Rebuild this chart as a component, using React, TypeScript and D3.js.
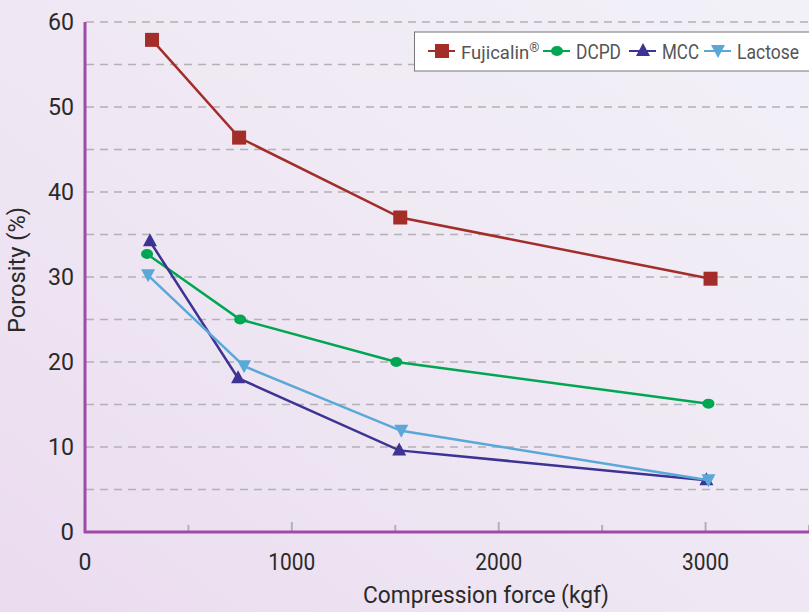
import React from "react";
import * as d3 from "d3";

const seriesNames = ["Fujicalin", "DCPD", "MCC", "Lactose"];
const fujiX = [324, 745, 1524, 3024];
const fujiY = [57.9, 46.4, 37.0, 29.8];
const dcpdX = [300, 750, 1505, 3014];
const dcpdY = [32.7, 25.0, 20.0, 15.1];
const mccX = [314, 740, 1519, 3004];
const mccY = [34.2, 18.1, 9.6, 6.1];
const lacX = [305, 769, 1529, 3014];
const lacY = [30.2, 19.5, 11.9, 6.1];
const xTicks = [0, 1000, 2000, 3000];
const xMinorTicks = [500, 1500, 2500, 3500];
const yTicks = [0, 10, 20, 30, 40, 50, 60];
const yGrid = [5, 10, 15, 20, 25, 30, 35, 40, 45, 50, 55, 60];

const colors = ["#a22d29", "#00a651", "#3d3393", "#5aa8d8"];
const shapes = ["square", "circle", "triangle", "triangleDown"];
const FONT = "Roboto, 'Liberation Sans', sans-serif";

function Marker({ shape, x, y, color }: { shape: string; x: number; y: number; color: string }) {
  if (shape === "square") return <rect x={x - 7} y={y - 7} width={14} height={14} fill={color} />;
  if (shape === "circle") return <ellipse cx={x} cy={y} rx={6} ry={5} fill={color} />;
  if (shape === "triangle")
    return <path d={`M${x},${y - 8} L${x + 7},${y + 5} L${x - 7},${y + 5} Z`} fill={color} />;
  return <path d={`M${x},${y + 7} L${x + 7},${y - 6} L${x - 7},${y - 6} Z`} fill={color} />;
}

export default function App() {
  const W = 809, H = 612;
  const x = d3.scaleLinear().domain([0, 3500]).range([85, 809]);
  const y = d3.scaleLinear().domain([0, 60]).range([532, 22]);
  const data = [
    fujiX.map((v, i) => [v, fujiY[i]]),
    dcpdX.map((v, i) => [v, dcpdY[i]]),
    mccX.map((v, i) => [v, mccY[i]]),
    lacX.map((v, i) => [v, lacY[i]]),
  ];
  const line = d3.line<number[]>().x((d) => x(d[0])).y((d) => y(d[1]));
  const legendX = [428, 543, 629, 704];
  const legendLen = [0, 45, 37, 62];
  const legendY = 51;

  return (
    <svg width={W} height={H} style={{ position: "absolute", left: 0, top: 0 }} fontFamily={FONT}>
      <defs>
        <linearGradient id="bg" x1="0" y1="1" x2="1" y2="0">
          <stop offset="0" stopColor="#ebdcef" />
          <stop offset="0.5" stopColor="#efe8f4" />
          <stop offset="1" stopColor="#f2f1f8" />
        </linearGradient>
      </defs>
      <rect x={0} y={0} width={W} height={H} fill="url(#bg)" />
      {yGrid.map((g) => (
        <line key={g} x1={86} x2={W} y1={y(g)} y2={y(g)} stroke="#b3b0b6" strokeWidth={1.3} strokeDasharray="8,6" />
      ))}
      {xTicks.slice(1).map((t) => (
        <line key={t} x1={x(t)} x2={x(t)} y1={532} y2={522} stroke="#b3b0b6" strokeWidth={2} />
      ))}
      {xMinorTicks.map((t) => (
        <line key={t} x1={x(t)} x2={x(t)} y1={532} y2={525} stroke="#b3b0b6" strokeWidth={2} />
      ))}
      <line x1={85} x2={85} y1={22} y2={533} stroke="#a04aa8" strokeWidth={3} />
      <line x1={84} x2={W} y1={532} y2={532} stroke="#a04aa8" strokeWidth={3} />
      {yTicks.map((t) => (
        <text key={t} x={74} y={y(t) + 8} textAnchor="end" fontSize={24} fill="#2a2a2a" textLength={t === 0 ? undefined : 26} lengthAdjust="spacingAndGlyphs">{t}</text>
      ))}
      {xTicks.map((t) => (
        <text key={t} x={x(t)} y={570} textAnchor="middle" fontSize={23} fill="#2a2a2a" textLength={t === 0 ? undefined : 47} lengthAdjust="spacingAndGlyphs">{t}</text>
      ))}
      <text x={486} y={603} textAnchor="middle" fontSize={23} fill="#2a2a2a" textLength={246} lengthAdjust="spacingAndGlyphs">Compression force (kgf)</text>
      <text transform="translate(25,270) rotate(-90)" textAnchor="middle" fontSize={23} fill="#2a2a2a" textLength={126} lengthAdjust="spacingAndGlyphs">Porosity (%)</text>
      {data.map((d, i) => (
        <g key={i}>
          <path d={line(d) || ""} fill="none" stroke={colors[i]} strokeWidth={2.5} />
          {d.map((p, j) => (
            <Marker key={j} shape={shapes[i]} x={x(p[0])} y={y(p[1])} color={colors[i]} />
          ))}
        </g>
      ))}
      <rect x={414.5} y={32} width={400} height={39} fill="#ffffff" stroke="#777" strokeWidth={1} />
      {seriesNames.map((n, i) => (
        <g key={n}>
          <line x1={legendX[i]} x2={legendX[i] + 27} y1={legendY} y2={legendY} stroke={colors[i]} strokeWidth={2} />
          <Marker shape={shapes[i]} x={legendX[i] + 14} y={legendY} color={colors[i]} />
          {i === 0 ? (
            <text x={legendX[i] + 33} y={legendY + 8} fontSize={18.5} fill="#555">
              {n}
              <tspan fontSize={13} dy={-7}>®</tspan>
            </text>
          ) : (
            <text x={legendX[i] + 33} y={legendY + 8} fontSize={19.5} fill="#555" textLength={legendLen[i]} lengthAdjust="spacingAndGlyphs">
              {n}
            </text>
          )}
        </g>
      ))}
    </svg>
  );
}
